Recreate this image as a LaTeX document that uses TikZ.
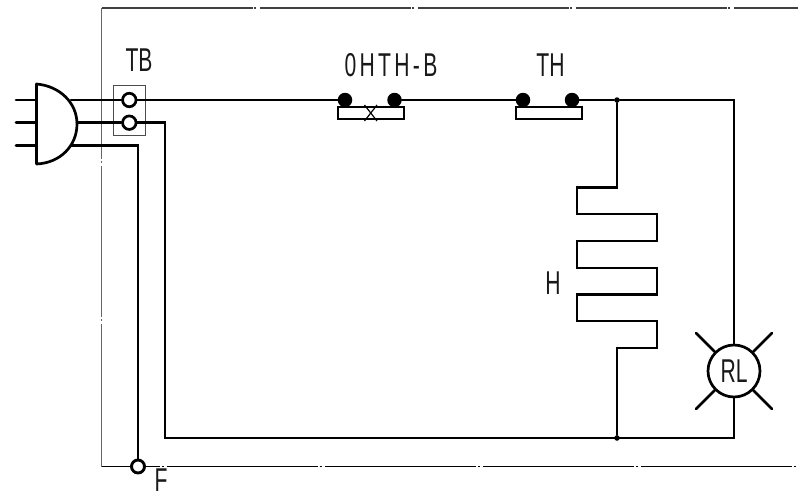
\documentclass[tikz,border=0pt]{standalone}
\usepackage{fontspec}
\setmainfont[FakeStretch=0.64]{Liberation Sans}
\tikzset{
  wire/.style={line width=2.7pt,line cap=round,line join=miter,black},
  framing/.style={line width=1.1pt,dash pattern=on 151pt off 1.5pt on 2pt off 3.5pt},
  terminal/.style={circle,draw,line width=2.7pt,fill=white,inner sep=0pt,minimum size=13.5pt},
  contact/.style={circle,fill=black,inner sep=0pt,minimum size=14.5pt},
  junction/.style={circle,fill=black,inner sep=0pt,minimum size=5.5pt},
  lbl/.style={inner sep=0pt,font=\fontsize{33}{33}\selectfont,text=black!90},
  barbox/.style={draw,line width=2.7pt,inner sep=0pt,fill=white,minimum width=66pt,minimum height=12pt}
}
\begin{document}
\begin{tikzpicture}[x=1pt,y=-1pt]
\useasboundingbox (0,0) rectangle (798,495);
\coordinate (fc) at (101.5,8);
\coordinate (ftr) at (798,8);
\coordinate (fbl) at (101.5,466.5);
\coordinate (fbr) at (798,466.5);
\draw[framing,black!75] (fc) -- (ftr);
\draw[framing,black!60] (fc) -- (fbl);
\draw[framing,dash phase=92.5pt,black] (fbl) -- (fbr);
% terminal block
\node[draw,black!70,line width=0.9pt,minimum width=31.5pt,minimum height=50.5pt,inner sep=0pt] (tb) at (129.3,110.4) {};
% plug
\coordinate (ptop) at (36.5,84);
\coordinate (pbot) at (36.5,164);
\draw[wire,line join=round,fill=white] (pbot) -- (ptop) .. controls (60,86) and (77,103) .. (77,124) .. controls (77,146) and (60,163) .. (pbot);
\coordinate (l1) at (16,100); \coordinate (l2) at (16,122.7); \coordinate (l3) at (16,145.5);
\coordinate (a1) at (36.5,100); \coordinate (a2) at (36.5,122.7); \coordinate (a3) at (36.5,145.5);
\coordinate (o1) at (71,100); \coordinate (o2) at (77,122.7); \coordinate (o3) at (71,145.5);
\draw[wire] (l1) -- (a1);
\draw[wire] (l2) -- (a2);
\draw[wire] (l3) -- (a3);
% components
\node[terminal] (t1) at (129.3,100) {};
\node[terminal] (t2) at (129.3,122.7) {};
\node[barbox] (bar1) at (371,113) {};
\node[barbox] (bar2) at (549,113) {};
\node[contact] (c1) at (345,100) {};
\node[contact] (c2) at (394.5,100) {};
\node[contact] (c3) at (523,100) {};
\node[contact] (c4) at (572,100) {};
\node[junction] (j1) at (617,100) {};
\node[junction] (j2) at (617,438) {};
\node[circle,draw,line width=2.7pt,inner sep=0pt,minimum size=52pt] (rl) at (734,371) {};
\node[circle,draw,line width=2.9pt,fill=white,inner sep=0pt,minimum size=13pt] (gnd) at (138,466.5) {};
% thermal cross
\coordinate (x1) at (364.5,105); \coordinate (x2) at (377,121);
\coordinate (x3) at (377,105); \coordinate (x4) at (364.5,121);
\draw[line width=1.2pt] (x1) -- (x2);
\draw[line width=1.2pt] (x3) -- (x4);
% wires
\draw[wire] (o1) -- (t1);
\draw[wire] (o2) -- (t2);
\draw[wire] (t1) -- (c1);
\draw[wire] (c2) -- (c3);
\draw[wire] (c4) -- (j1);
\coordinate (rtop) at (734,100);
\coordinate (rbot) at (734,438);
\coordinate (w2a) at (165,122.7);
\coordinate (w2b) at (165,438);
\coordinate (w3a) at (138,145.5);
\draw[wire] (j1) -- (rtop) -- (rl);
\draw[wire] (rl) -- (rbot) -- (w2b) -- (w2a) -- (t2);
\draw[wire] (o3) -- (w3a) -- (gnd);
\draw[wire] (j1) -- (617,187.5) -- (577,187.5) -- (577,214) -- (657,214) -- (657,241) -- (577,241) -- (577,268) -- (657,268) -- (657,294.7) -- (577,294.7) -- (577,321) -- (657,321) -- (657,348) -- (617,348) -- (j2);
% lamp rays
\coordinate (r1) at (696,333); \coordinate (r2) at (772,333);
\coordinate (r3) at (696,409); \coordinate (r4) at (772,409);
\draw[wire] (rl.135) -- (r1);
\draw[wire] (rl.45) -- (r2);
\draw[wire] (rl.225) -- (r3);
\draw[wire] (rl.315) -- (r4);
% labels
\node[lbl] (ltb) at (139,60.5) {TB};
\node[lbl] (loh) at (391,65) {\addfontfeature{LetterSpace=10}0HTH-B};
\node[lbl] (lth) at (550.5,65) {TH};
\node[lbl] (lh) at (553,283.5) {H};
\node[lbl] (lrl) at (734,371) {RL};
\node[lbl] (lf) at (161,480.5) {F};
\end{tikzpicture}
\end{document}
